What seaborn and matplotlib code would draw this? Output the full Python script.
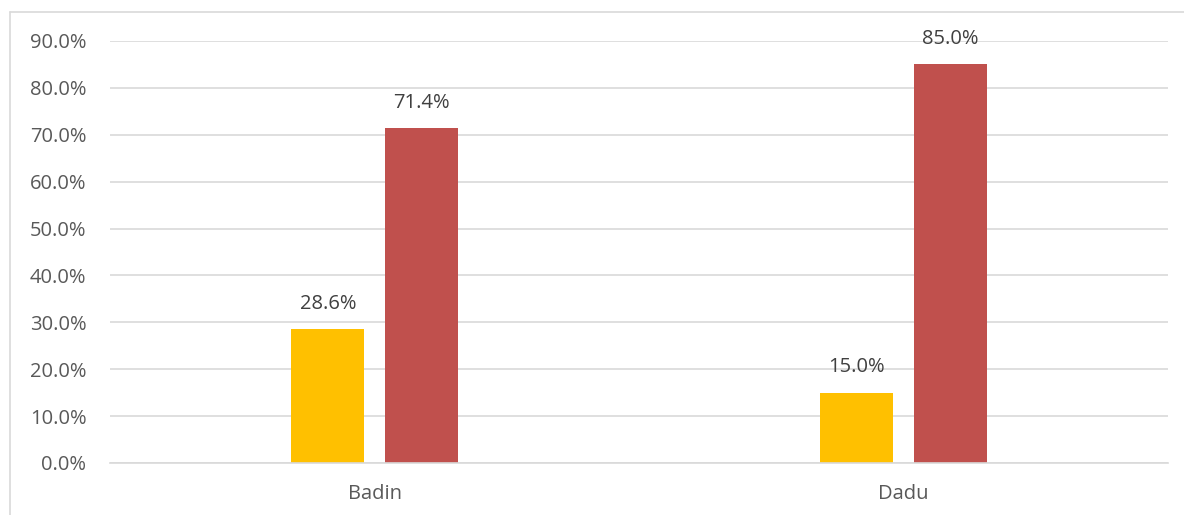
import matplotlib
matplotlib.use("Agg")
import matplotlib.pyplot as plt
import seaborn as sns
import pandas as pd
from matplotlib.lines import Line2D

categories = ["Badin", "Dadu"]
series_names = ["Series 1", "Series 2"]
series1 = [28.6, 15.0]
series2 = [71.4, 85.0]
colors = ["#FFC000", "#C0504D"]
yticks = [0, 10, 20, 30, 40, 50, 60, 70, 80, 90]

rows = []
for c, a, b in zip(categories, series1, series2):
    rows.append({"cat": c, "series": series_names[0], "val": a})
    rows.append({"cat": c, "series": series_names[1], "val": b})
df = pd.DataFrame(rows)

sns.set_style("white")
plt.rcParams["font.family"] = ["Open Sans", "DejaVu Sans"]

W, H = 1184, 515
fig = plt.figure(figsize=(W / 100, H / 100), dpi=100)
ax = fig.add_axes([110 / W, 1 - 463 / H, 1058 / W, 422 / H])

sns.barplot(data=df, x="cat", y="val", hue="series", palette=colors,
            width=0.352, gap=0.216, ax=ax, legend=False, saturation=1,
            errorbar=None, linewidth=0, edgecolor="none")

ax.set_ylim(0, 90)
ax.set_xlim(-0.5, 1.5)
ax.set_yticks(yticks)
ax.set_yticklabels([f"{v:.1f}%" for v in yticks])
ax.set_xlabel("")
ax.set_ylabel("")
ax.yaxis.grid(True, color="#D9D9D9", linewidth=1.2)
ax.set_axisbelow(True)
for s in ["top", "right", "left"]:
    ax.spines[s].set_visible(False)
ax.spines["bottom"].set_color("#D9D9D9")
ax.spines["bottom"].set_linewidth(1.2)
ax.tick_params(axis="both", length=0, labelsize=14.5, colors="#595959")
ax.tick_params(axis="y", pad=17)
ax.tick_params(axis="x", pad=15)

for cont in ax.containers:
    ax.bar_label(cont, labels=[f"{v:.1f}%" for v in cont.datavalues],
                 padding=11, fontsize=14.5, color="#404040")

# outer chart border (left and top visible)
fig.add_artist(Line2D([10 / W, 10 / W], [0, 1 - 12 / H], transform=fig.transFigure,
                      color="#D9D9D9", linewidth=1.2))
fig.add_artist(Line2D([10 / W, 1], [1 - 12 / H, 1 - 12 / H], transform=fig.transFigure,
                      color="#D9D9D9", linewidth=1.2))

fig.savefig("out.png", dpi=100)
